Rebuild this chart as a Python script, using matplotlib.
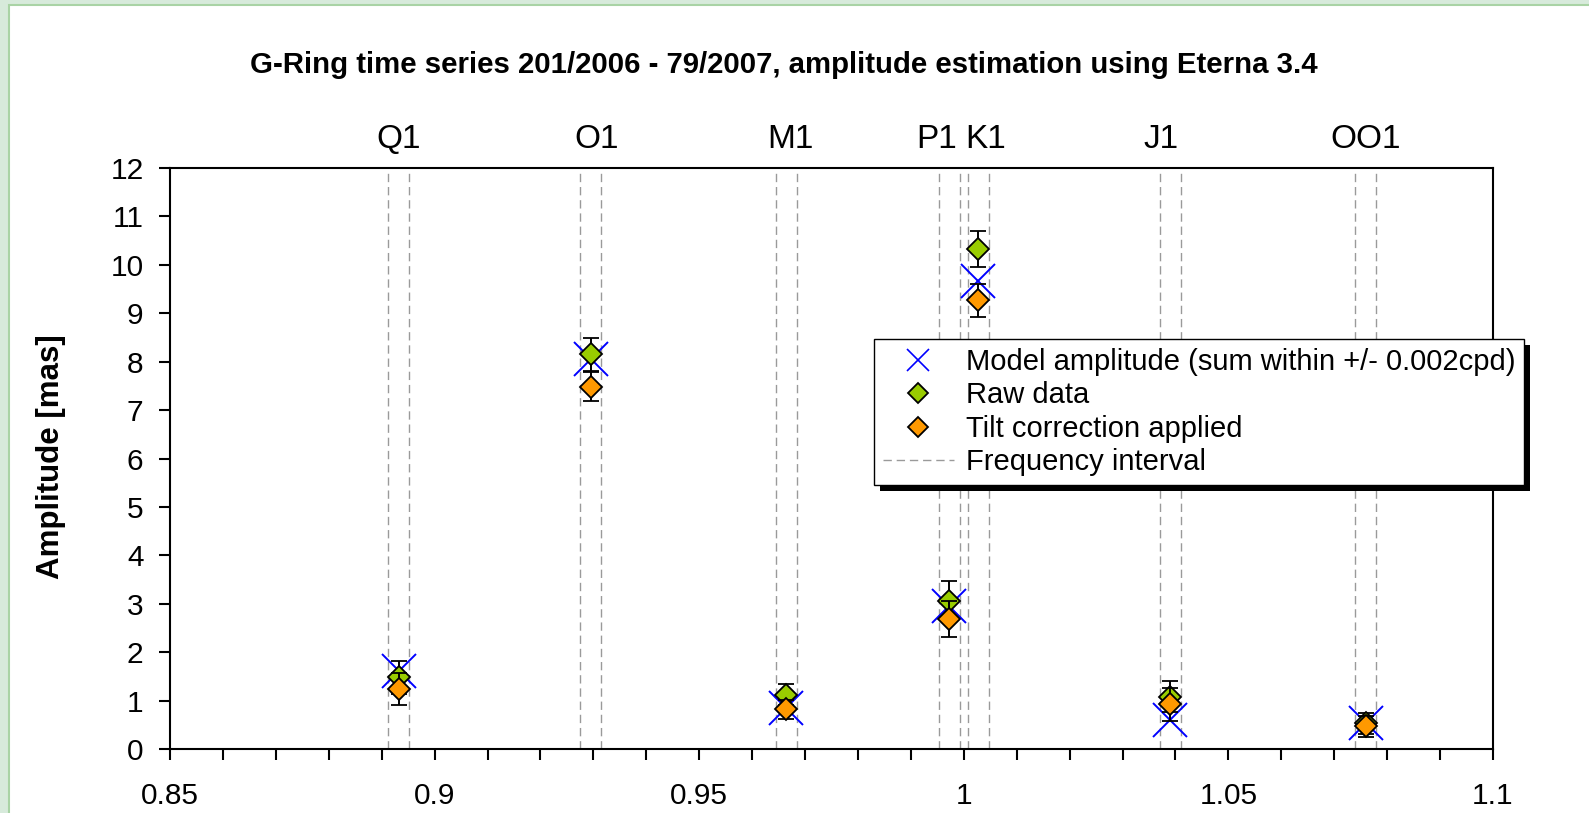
import matplotlib
matplotlib.use("Agg")
import matplotlib.pyplot as plt
from matplotlib.lines import Line2D
from matplotlib.patches import Rectangle
from matplotlib.transforms import IdentityTransform, blended_transform_factory
from matplotlib.ticker import MultipleLocator

plt.rcParams["font.family"] = ["Liberation Sans", "DejaVu Sans"]

# Tidal constituents and their frequencies [cpd]
constituents = ["Q1", "O1", "M1", "P1", "K1", "J1", "OO1"]
frequency = [0.893244, 0.929536, 0.966446, 0.997262, 1.002738, 1.039030, 1.075940]

# Amplitudes [mas]
model_amp = [1.62, 8.05, 0.84, 2.95, 9.67, 0.59, 0.54]
raw_amp = [1.48, 8.15, 1.12, 3.06, 10.33, 1.08, 0.53]
raw_err = [0.34, 0.34, 0.22, 0.42, 0.37, 0.32, 0.22]
tilt_amp = [1.24, 7.48, 0.82, 2.68, 9.27, 0.92, 0.47]
tilt_err = [0.33, 0.30, 0.20, 0.37, 0.34, 0.34, 0.22]

half_width = 0.002  # frequency interval half width [cpd]

# horizontal nudges of the constituent names so P1 and K1 do not collide
label_shift = [0.0, 0.001, 0.0008, -0.0024, 0.0013, -0.0017, 0.0]

GREEN = "#99cc00"
ORANGE = "#ff9900"
BLUE = "#0000ff"
GRAY = "#9a9a9a"

W, H = 1589, 813
fig = plt.figure(figsize=(W / 100, H / 100), dpi=100, facecolor="#d7eadb")
fig.patches.append(Rectangle((9 / W, -0.05), 1.1, 1.05 - 5 / H, transform=fig.transFigure,
                             facecolor="white", edgecolor="#a9d3a5", linewidth=1.5,
                             zorder=-1))

ax = fig.add_axes([170 / W, 1 - 749 / H, (1493 - 170) / W, (749 - 168) / H])
ax.set_facecolor("white")
ax.set_xlim(0.85, 1.1)
ax.set_ylim(0, 12)

# frequency interval boundaries
for f in frequency:
    for x in (f - half_width, f + half_width):
        ax.axvline(x, color=GRAY, lw=1.0, ls=(0, (6, 3.5)), zorder=1)

ax.plot(frequency, model_amp, ls="none", marker="x", ms=24, mew=1.4,
        color=BLUE, zorder=2)
ax.errorbar(frequency, raw_amp, yerr=raw_err, ls="none", marker="D", ms=11,
            mfc=GREEN, mec="black", mew=1.3, ecolor="black", elinewidth=1.4,
            capsize=5.5, capthick=1.6, zorder=3)
ax.errorbar(frequency, tilt_amp, yerr=tilt_err, ls="none", marker="D", ms=11,
            mfc=ORANGE, mec="black", mew=1.3, ecolor="black", elinewidth=1.4,
            capsize=5.5, capthick=1.6, zorder=4)

# axes styling
for side in ("top", "right", "bottom", "left"):
    ax.spines[side].set_linewidth(1.5)
ax.xaxis.set_major_locator(MultipleLocator(0.05))
ax.xaxis.set_minor_locator(MultipleLocator(0.01))
ax.yaxis.set_major_locator(MultipleLocator(1))
ax.set_xticks([0.85, 0.9, 0.95, 1.0, 1.05, 1.1])
ax.set_xticklabels(["0.85", "0.9", "0.95", "1", "1.05", "1.1"])
ax.tick_params(axis="both", which="both", direction="out", length=8, width=1.5,
               labelsize=21.5)
ax.tick_params(axis="x", pad=16)
ax.tick_params(axis="y", pad=11)

# constituent names above the plot
trans = blended_transform_factory(ax.transData, ax.transAxes)
for name, f, dx in zip(constituents, frequency, label_shift):
    ax.text(f + dx, 1.034, name, transform=trans, ha="center", va="baseline",
            fontsize=24, clip_on=False)

fig.text(0.493, 1 - 73 / H,
         "G-Ring time series 201/2006 - 79/2007, amplitude estimation using Eterna 3.4",
         ha="center", va="baseline", fontsize=21.2, fontweight="bold")
fig.text(51 / W, 1 - 457 / H, "Amplitude [mas]", rotation=90, ha="center",
         va="center", fontsize=22.5, fontweight="bold")

handles = [
    Line2D([], [], ls="none", marker="x", ms=16, mew=1.2, color=BLUE),
    Line2D([], [], ls="none", marker="D", ms=10.5, mfc=GREEN, mec="black", mew=1.3),
    Line2D([], [], ls="none", marker="D", ms=10.5, mfc=ORANGE, mec="black", mew=1.3),
    Line2D([], [], color=GRAY, lw=1.0, ls=(0, (6, 3.5))),
]
labels = ["Model amplitude (sum within +/- 0.002cpd)", "Raw data",
          "Tilt correction applied", "Frequency interval"]
leg = ax.legend(handles, labels, loc="upper left",
                bbox_to_anchor=((874 - 170) / 1323, (749 - 339) / 581),
                borderaxespad=0, fontsize=21, frameon=True, fancybox=False,
                edgecolor="black", framealpha=1, handlelength=2.45,
                handletextpad=0.4, labelspacing=0.19, borderpad=0.3)
leg.get_frame().set_linewidth(1.0)
leg.set_zorder(6)

# solid drop shadow behind the legend box
fig.canvas.draw()
bb = leg.get_frame().get_window_extent()
shadow = Rectangle((bb.x0 + 6, bb.y0 - 6), bb.width, bb.height,
                   transform=IdentityTransform(), facecolor="black",
                   edgecolor="none", zorder=5.5, clip_on=False)
ax.add_patch(shadow)

fig.savefig("out.png", dpi=100, facecolor=fig.get_facecolor())
